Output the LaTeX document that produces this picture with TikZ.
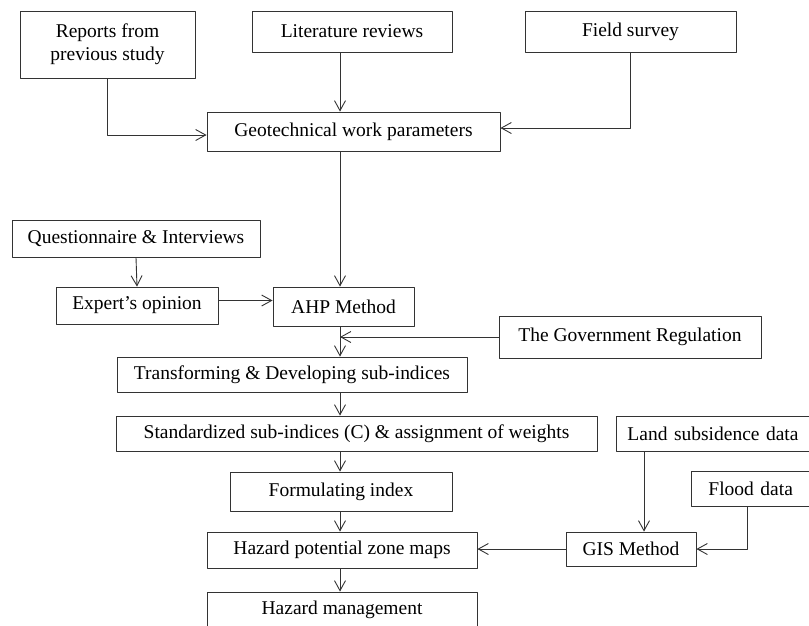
\documentclass[tikz,border=0pt]{standalone}
\usepackage{fontspec}
\setmainfont{Liberation Serif}
\usetikzlibrary{arrows.meta}

\begin{document}
\begin{tikzpicture}[x=1pt,y=-1pt,>={Straight Barb[length=10pt,width=11pt]},line cap=round,line join=round,
  box/.style={draw=black!80,line width=0.9pt,inner sep=0pt,font=\fontsize{19.5}{23}\selectfont},
  cut/.style={box,anchor=west,align=left},
  flow/.style={->,draw=black!80,line width=0.9pt}]
\useasboundingbox (0,0) rectangle (809,625);
\clip (0,0) rectangle (809,625);
\coordinate (ax) at (340,0);
\node[box,minimum width=175pt,minimum height=67pt,align=center] (rep) at (107.5,44.5) {Reports from\\previous study};
\node[box,minimum width=200pt,minimum height=41pt] (lit) at (352,31.5) {Literature reviews};
\node[box,minimum width=211pt,minimum height=41pt] (fld) at (630.5,31.5) {Field survey};
\node[box,minimum width=293pt,minimum height=39pt] (geo) at (353.5,131.5) {Geotechnical work parameters};
\node[box,minimum width=248pt,minimum height=37pt] (que) at (136,238.5) {Questionnaire \& Interviews};
\node[box,minimum width=162pt,minimum height=37pt] (exp) at (137,305.5) {Expert’s opinion};
\node[box,minimum width=141pt,minimum height=39pt] (ahp) at (343.5,306.5) {AHP Method};
\node[box,minimum width=262pt,minimum height=42pt] (gov) at (630,337) {The Government Regulation};
\node[box,minimum width=350pt,minimum height=35pt] (tra) at (292,374.5) {Transforming \& Developing sub-indices};
\node[box,minimum width=481pt,minimum height=35pt] (std) at (356.5,433.5) {Standardized sub-indices (C) \& assignment of weights};
\node[cut,text width=200pt,inner xsep=11pt,minimum height=35pt] (lan) at (616,433.5) {Land subsidence data};
\node[box,minimum width=222pt,minimum height=39pt] (frm) at (341,491.5) {Formulating index};
\node[cut,text width=150pt,inner xsep=17pt,minimum height=35pt] (fod) at (691,488.5) {Flood data};
\node[box,minimum width=270pt,minimum height=36pt] (haz) at (342,550) {Hazard potential zone maps};
\node[box,minimum width=130pt,minimum height=34pt] (gis) at (631,549) {GIS Method};
\node[box,minimum width=270pt,minimum height=36pt] (mgt) at (342,610) {Hazard management};
\coordinate (lx) at (644,0);
\coordinate (fx) at (747,0);
% inputs to parameters
\draw[flow] (rep.south) |- ([yshift=-3.5pt]geo.west);
\draw[flow] (lit.south -| ax) -- (geo.north -| ax);
\draw[flow] (fld.south) |- ([yshift=3.5pt]geo.east);
% AHP branch
\draw[flow] (geo.south -| ax) -- (ahp.north -| ax);
\draw[flow] (que.south) -- (exp.north);
\draw[flow] ([yshift=5pt]exp.east) -- ([yshift=5pt]exp.east -| ahp.west);
\draw[flow] (ahp.south -| ax) -- (tra.north -| ax);
\draw[flow] (gov.west) -- (gov.west -| ax);
% main chain
\draw[flow] (tra.south -| ax) -- (std.north -| ax);
\draw[flow] (std.south -| ax) -- (frm.north -| ax);
\draw[flow] (frm.south -| ax) -- (haz.north -| ax);
\draw[flow] (haz.south -| ax) -- (mgt.north -| ax);
% GIS branch
\draw[flow] (lan.south -| lx) -- (gis.north -| lx);
\draw[flow] (fod.south -| fx) |- (gis.east);
\draw[flow] (gis.west) -- (haz.east |- gis.west);
\end{tikzpicture}
\end{document}
